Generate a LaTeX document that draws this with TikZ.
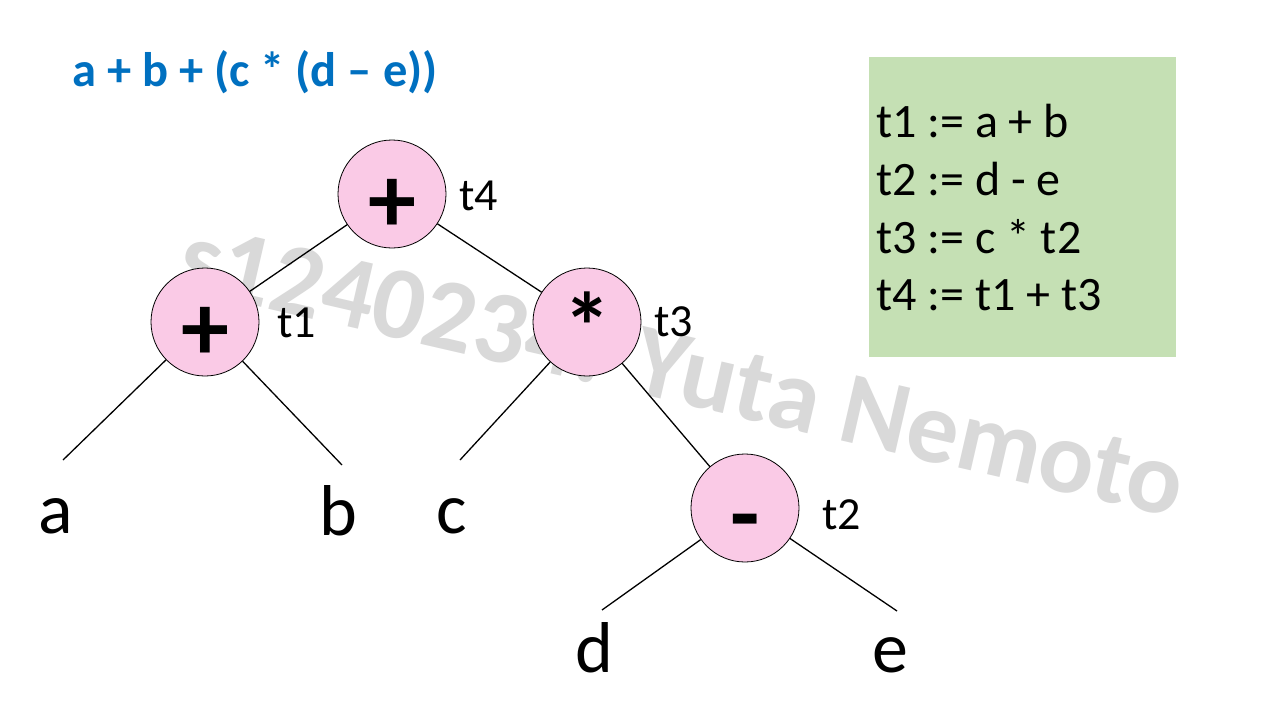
\documentclass[tikz,border=0pt]{standalone}
\usepackage{fontspec}
\setmainfont{Carlito}
\definecolor{nodepink}{RGB}{250,202,230}
\definecolor{boxgreen}{RGB}{197,224,180}
\definecolor{titleblue}{RGB}{0,112,192}
\definecolor{wmgray}{RGB}{217,217,217}
\begin{document}
\begin{tikzpicture}[x=1pt,y=-1pt,
  opnode/.style={circle, draw=black, line width=0.8pt, fill=nodepink, minimum size=108pt, inner sep=0pt,
    font=\fontsize{96}{96}\selectfont\bfseries, text height=76pt, text depth=0pt},
  tlab/.style={anchor=base west, inner sep=0pt, font=\fontsize{46}{46}\selectfont},
  leaf/.style={anchor=base, inner sep=0pt, font=\fontsize{72}{72}\selectfont},
  edgeline/.style={line width=1.3pt, draw=black},
  codeline/.style={anchor=base west, inner sep=0pt, font=\fontsize{48}{48}\selectfont}]
\useasboundingbox (0,0) rectangle (1280,720);
\fill[white] (0,0) rectangle (1280,720);
% watermark
\node[anchor=base west, inner sep=0pt, rotate=-13, text=wmgray,
  font=\fontsize{103}{103}\selectfont\bfseries] (wm) at (174,287) {s1240234: Yuta Nemoto};
% title
\node[anchor=base west, inner sep=0pt, text=titleblue, font=\fontsize{48.5}{48.5}\selectfont\bfseries]
  (title) at (72,86) {a + b + (c * (d – e))};
% code box
\node[rectangle, fill=boxgreen, minimum width=307pt, minimum height=300pt, inner sep=0pt]
  (box) at (1022.5,207) {};
\node[codeline] (c1) at (876,137) {t1 := a + b};
\node[codeline] (c2) at (876,195) {t2 := d - e};
\node[codeline] (c3) at (876,253) {t3 := c * t2};
\node[codeline] (c4) at (876,310) {t4 := t1 + t3};
% leaf end points
\coordinate (ea) at (63,460);
\coordinate (eb) at (342,465);
\coordinate (ec) at (460,460);
\coordinate (ed) at (602,610);
\coordinate (ee) at (897,611);
% operator nodes
\node[opnode] (t4) at (392,194) {+};
\node[opnode] (t1) at (205,322) {+};
\node[opnode] (t3) at (587,322) {*};
\node[opnode] (t2) at (745,508) {-};
% edges
\draw[edgeline] (t4) -- (t1);
\draw[edgeline] (t4) -- (t3);
\draw[edgeline] (t1) -- (ea);
\draw[edgeline] (t1) -- (eb);
\draw[edgeline] (t3) -- (ec);
\draw[edgeline] (t3) -- (t2);
\draw[edgeline] (t2) -- (ed);
\draw[edgeline] (t2) -- (ee);
% temp labels
\node[tlab] (l4) at (459,210) {t4};
\node[tlab] (l1) at (277,337) {t1};
\node[tlab] (l3) at (654,336) {t3};
\node[tlab] (l2) at (822,529) {t2};
% leaves
\node[leaf] (a) at (56,533) {a};
\node[leaf] (b) at (338,535) {b};
\node[leaf] (c) at (452,533) {c};
\node[leaf] (d) at (594,672) {d};
\node[leaf] (e) at (890,672) {e};
\end{tikzpicture}
\end{document}
